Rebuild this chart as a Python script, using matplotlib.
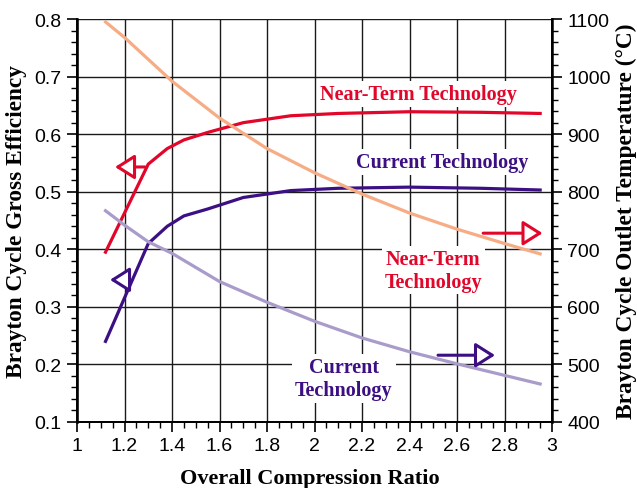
import matplotlib.pyplot as plt
from matplotlib.ticker import MultipleLocator

# compression ratio sample points
ratio_eff = [1.12, 1.30, 1.38, 1.45, 1.55, 1.70, 1.90, 2.10, 2.40, 2.70, 2.95]
eff_near = [0.395, 0.548, 0.575, 0.590, 0.603, 0.620, 0.632, 0.636, 0.639, 0.638, 0.636]
eff_current = [0.240, 0.410, 0.440, 0.458, 0.470, 0.490, 0.502, 0.506, 0.508, 0.506, 0.503]

ratio_temp = [1.12, 1.20, 1.30, 1.40, 1.60, 1.80, 2.00, 2.20, 2.40, 2.60, 2.80, 2.95]
temp_near = [1095, 1068, 1030, 992, 928, 875, 833, 796, 763, 735, 710, 692]
temp_current = [767, 742, 713, 693, 644, 608, 575, 546, 522, 501, 481, 466]

RED = '#e3062b'
PURPLE = '#3c0f83'
ORANGE = '#f6ac85'
LILAC = '#a99ccb'

serif = ['Liberation Serif', 'DejaVu Serif']
plt.rcParams['font.family'] = ['Liberation Sans', 'DejaVu Sans']

fig = plt.figure(figsize=(6.37, 4.89), dpi=100)
ax = fig.add_axes([0.1209, 0.135, 0.7457, 0.824])
ax2 = ax.twinx()

ax.set_xlim(1, 3)
ax.set_ylim(0.1, 0.8)
ax2.set_ylim(400, 1100)

ax.xaxis.set_minor_locator(MultipleLocator(0.05))
ax.yaxis.set_major_locator(MultipleLocator(0.1))
ax.yaxis.set_minor_locator(MultipleLocator(0.02))
ax2.yaxis.set_major_locator(MultipleLocator(100))
ax2.yaxis.set_minor_locator(MultipleLocator(20))

ax.set_xticks([1, 1.2, 1.4, 1.6, 1.8, 2, 2.2, 2.4, 2.6, 2.8, 3])
ax.set_xticklabels(['1', '1.2', '1.4', '1.6', '1.8', '2', '2.2', '2.4', '2.6', '2.8', '3'])

ax.grid(True, which='major', color='#1a1a1a', linewidth=1.0)
ax.set_axisbelow(True)

for a in (ax, ax2):
    a.tick_params(which='major', direction='out', length=7, width=1.2, labelsize=14, color='black', pad=4)
    a.tick_params(which='minor', direction='out', length=4, width=1.0)
    for s in a.spines.values():
        s.set_linewidth(1.3)
    a.spines['top'].set_visible(False)
ax2.spines['left'].set_linewidth(1.8)
ax2.spines['right'].set_linewidth(1.8)

ax.plot(ratio_eff, eff_near, color=RED, lw=2.3, zorder=4)
ax.plot(ratio_eff, eff_current, color=PURPLE, lw=2.3, zorder=4)
ax2.plot(ratio_temp, temp_near, color=ORANGE, lw=2.3, zorder=4)
ax2.plot(ratio_temp, temp_current, color=LILAC, lw=2.3, zorder=4)

ax.set_xlabel('Overall Compression Ratio', family=serif, fontweight='bold', fontsize=16)
ax.set_ylabel('Brayton Cycle Gross Efficiency', family=serif, fontweight='bold', fontsize=16.8)
ax2.set_ylabel('Brayton Cycle Outlet Temperature (°C)', family=serif, fontweight='bold', fontsize=16.8)
ax.xaxis.set_label_coords(0.49, -0.115)
ax.yaxis.set_label_coords(-0.105, 0.5)
ax2.yaxis.set_label_coords(1.135, 0.5)

box = dict(facecolor='white', edgecolor='none', pad=2)
lbl = dict(family=serif, fontweight='bold', fontsize=14.5, ha='center', va='center', bbox=box, zorder=3)
ax.text(2.436, 0.670, 'Near-Term Technology', color=RED, **lbl)
ax.text(2.537, 0.552, 'Current Technology', color=PURPLE, **lbl)
ax2.text(2.50, 664, 'Near-Term\nTechnology', color=RED, linespacing=1.2, **lbl)
ax2.text(2.124, 476, 'Current\nTechnology', color=PURPLE, linespacing=1.2, **lbl)

# arrows pointing each curve to its axis
def pointer(a, x0, x1, y, color):
    a.annotate('', xy=(x1, y), xytext=(x0, y), zorder=5,
               arrowprops=dict(arrowstyle='-|>,head_length=0.6,head_width=0.38',
                               mutation_scale=20, color=color, fc='white',
                               lw=2.2, shrinkA=0, shrinkB=0))

pointer(ax, 1.286, 1.16, 0.543, RED)
pointer(ax, 1.223, 1.139, 0.347, PURPLE)
pointer(ax2, 2.71, 2.96, 728, RED)
pointer(ax2, 2.52, 2.76, 516, PURPLE)

plt.savefig('out.png', dpi=100)
plt.close()
